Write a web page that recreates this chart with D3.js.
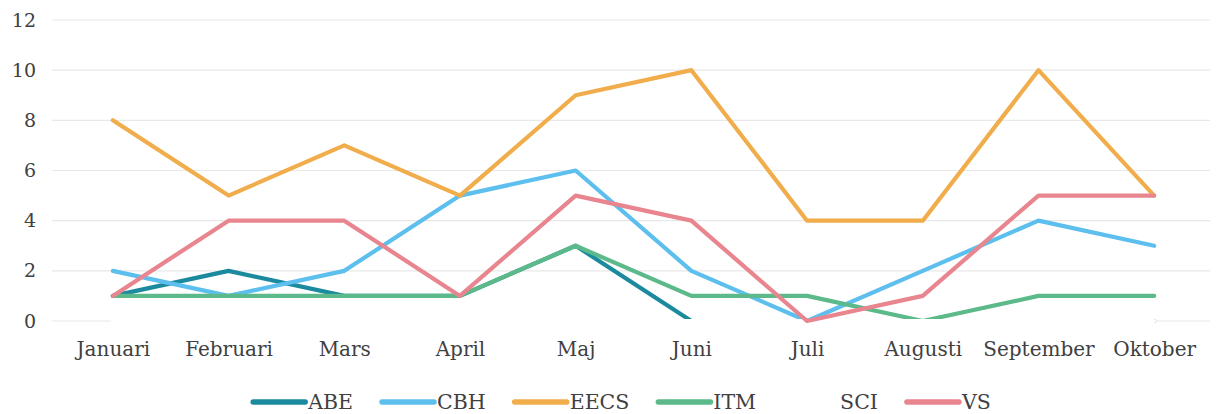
<!DOCTYPE html>
<html><head><meta charset="utf-8">
<script src="https://cdn.jsdelivr.net/npm/d3@7"></script>
<style>body{margin:0;background:#fff}svg{display:block}</style>
</head><body>
<svg id="c" width="1216" height="414"></svg>
<script>
const months = ["Januari","Februari","Mars","April","Maj","Juni","Juli","Augusti","September","Oktober"];
const yTicks = [0,2,4,6,8,10,12];
const seriesNames = ["ABE","CBH","EECS","ITM","SCI","VS"];
const seriesColors = ["#1b8a9e","#5dbfee","#f1ad4b","#5bb98a","#ffffff","#e8858f"];
const ABE  = [1,2,1,1,3,0,0,0,0,0];
const CBH  = [2,1,2,5,6,2,0,2,4,3];
const EECS = [8,5,7,5,9,10,4,4,10,5];
const ITM  = [1,1,1,1,3,1,1,0,1,1];
const SCI  = [0,0,0,0,0,0,0,0,0,0];
const VS   = [1,4,4,1,5,4,0,1,5,5];
const seriesValues = [ABE,CBH,EECS,ITM,SCI,VS];

const svg = d3.select("#c");
const font = "'DejaVu Serif', serif";
const x = d3.scalePoint().domain(months).range([55,1212]).padding(0.5);
const y = d3.scaleLinear().domain([0,12]).range([321,20]);

// gridlines
svg.append("g").selectAll("line").data(yTicks).join("line")
  .attr("x1",52).attr("x2",1210)
  .attr("y1",d=>y(d)).attr("y2",d=>y(d))
  .attr("stroke","#e8e8e8").attr("stroke-width",1.2);

// y labels
const yAxis = svg.append("g").attr("transform","translate(36,0)")
  .call(d3.axisLeft(y).tickValues(yTicks).tickSize(0).tickPadding(0));
yAxis.select(".domain").remove();
yAxis.selectAll("text").attr("font-family",font).attr("font-size",19).attr("fill","#404040");

// x labels
const xAxis = svg.append("g").attr("transform","translate(0,337)")
  .call(d3.axisBottom(x).tickSize(0).tickPadding(0));
xAxis.select(".domain").remove();
xAxis.selectAll("text").attr("font-family",font).attr("font-size",20).attr("fill","#404040").attr("dy","0.95em");

// lines
const line = d3.line().x((d,i)=>x(months[i])).y(d=>y(d));
svg.append("g").selectAll("path").data(seriesValues).join("path")
  .attr("d",line).attr("fill","none")
  .attr("stroke",(d,i)=>seriesColors[i]).attr("stroke-width",4.2)
  .attr("stroke-linejoin","round").attr("stroke-linecap","round");

// legend
const lg = svg.append("g");
let cx = 0;
seriesNames.forEach((n,i)=>{
  const g = lg.append("g");
  g.append("line").attr("x1",cx+2).attr("x2",cx+54).attr("y1",0).attr("y2",0)
    .attr("stroke",seriesColors[i]).attr("stroke-width",5.5).attr("stroke-linecap","round");
  const t = g.append("text").attr("x",cx+57).attr("y",0).attr("dy","0.35em")
    .attr("font-family",font).attr("font-size",20.5).attr("fill","#404040").text(n);
  const w = t.node().getComputedTextLength();
  cx += 57 + w + 27;
});
const total = cx - 27;
lg.attr("transform",`translate(${621 - total/2},402)`);
</script>
</body></html>
